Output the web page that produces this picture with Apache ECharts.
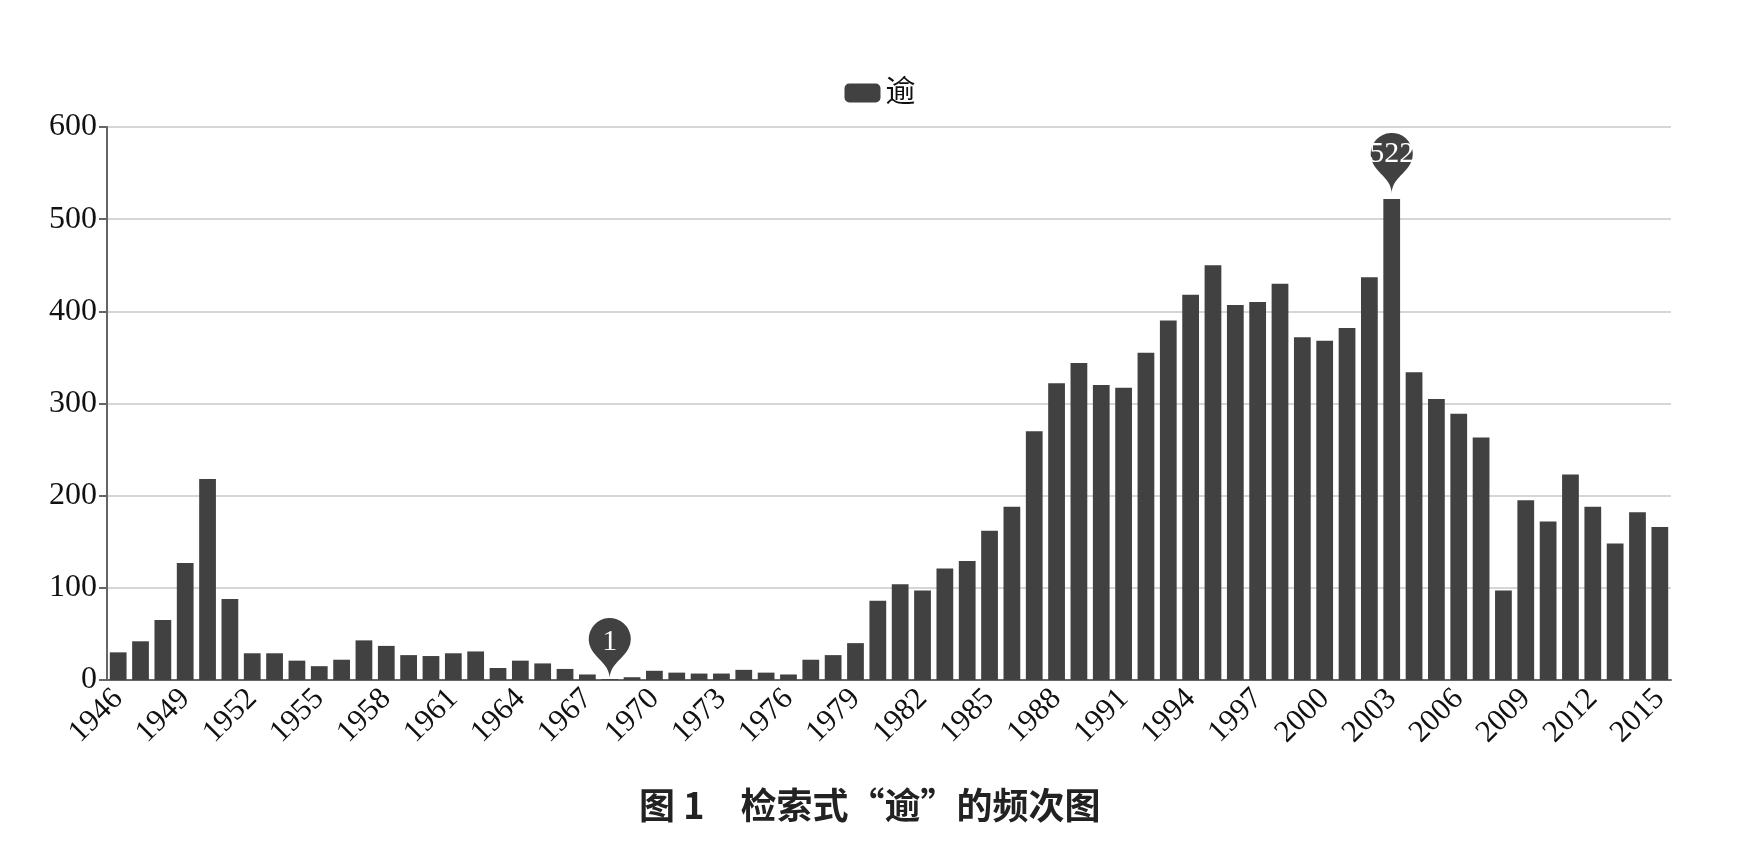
<!DOCTYPE html>
<html>
<head>
<meta charset="utf-8">
<script src="https://cdn.jsdelivr.net/npm/echarts@6/dist/echarts.min.js"></script>
<style>
html,body{margin:0;padding:0;background:#fff;}
#chart{width:1760px;height:856px;}
</style>
</head>
<body>
<div id="chart"></div>
<script>
const years = ['1946','1947','1948','1949','1950','1951','1952','1953','1954','1955',
  '1956','1957','1958','1959','1960','1961','1962','1963','1964','1965',
  '1966','1967','1968','1969','1970','1971','1972','1973','1974','1975',
  '1976','1977','1978','1979','1980','1981','1982','1983','1984','1985',
  '1986','1987','1988','1989','1990','1991','1992','1993','1994','1995',
  '1996','1997','1998','1999','2000','2001','2002','2003','2004','2005',
  '2006','2007','2008','2009','2010','2011','2012','2013','2014','2015'];
const counts = [30,42,65,127,218,88,29,29,21,15,
  22,43,37,27,26,29,31,13,21,18,
  12,6,1,3,10,8,7,7,11,8,
  6,22,27,40,86,104,97,121,129,162,
  188,270,322,344,320,317,355,390,418,450,
  407,410,430,372,368,382,437,522,334,305,
  289,263,97,195,172,223,188,148,182,166];
const seriesName = '逾';
const captionText = '图 1　检索式“逾”的频次图';

const serif = "'Liberation Serif','Times New Roman','Noto Sans CJK SC',serif";
const chart = echarts.init(document.getElementById('chart'));
chart.setOption({
  animation: false,
  backgroundColor: '#fff',
  title: {
    text: captionText,
    left: 634, top: 782,
    textStyle: {fontFamily: "'Noto Sans CJK SC',sans-serif", fontSize: 36, fontWeight: 'bold', color: '#222'}
  },
  legend: {
    data: [seriesName],
    top: 73, left: 'center',
    itemWidth: 36, itemHeight: 19, itemGap: 10,
    textStyle: {fontFamily: serif, fontSize: 30, color: '#111'}
  },
  grid: {left: 107, right: 89, top: 127, bottom: 176},
  xAxis: {
    type: 'category',
    data: years,
    axisLine: {lineStyle: {color: '#666', width: 2}},
    axisTick: {interval: 2, length: 5, lineStyle: {color: '#666', width: 2}},
    axisLabel: {interval: 2, rotate: 45, fontFamily: serif, fontSize: 31, color: '#111', margin: 14}
  },
  yAxis: {
    type: 'value',
    min: 0, max: 600, interval: 100,
    axisLine: {show: true, lineStyle: {color: '#666', width: 2}},
    axisTick: {show: true, length: 8, lineStyle: {color: '#666', width: 2}},
    axisLabel: {fontFamily: serif, fontSize: 32, color: '#111', margin: 10},
    splitLine: {lineStyle: {color: '#c8c8c8', width: 1.5}}
  },
  series: [{
    name: seriesName,
    type: 'bar',
    data: counts,
    barCategoryGap: '25%',
    itemStyle: {color: '#414141'},
    markPoint: {
      symbol: 'pin',
      symbolSize: 70,
      itemStyle: {color: '#414141'},
      label: {color: '#fff', fontFamily: serif, fontSize: 30},
      data: [
        {type: 'max', name: 'max', symbolOffset: [0, -5], label: {offset: [0, -3]}},
        {type: 'min', name: 'min'}
      ]
    }
  }]
});
</script>
</body>
</html>
